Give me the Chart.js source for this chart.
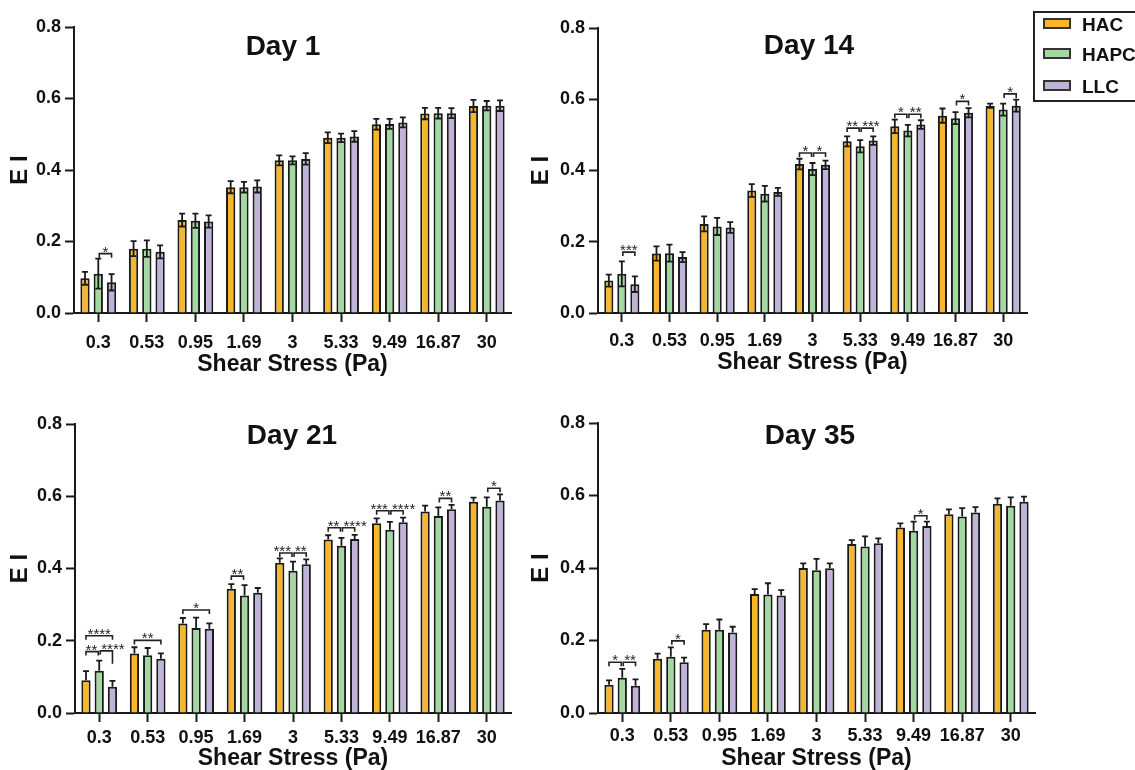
<!DOCTYPE html>
<html>
<head>
<meta charset="utf-8">
<script src="https://cdn.jsdelivr.net/npm/chart.js@4.4.1/dist/chart.umd.min.js"></script>
<style>
  html, body { margin: 0; padding: 0; background: #fff; }
  body { width: 1135px; height: 770px; position: relative; overflow: hidden; font-family: "Liberation Sans", Arial, sans-serif; }
  canvas { position: absolute; }
  #legend { position: absolute; left: 1033px; top: 11px; width: 130px; height: 91px; border: 2px solid #222; box-sizing: border-box; }
  .item { position: absolute; left: 8px; font-weight: bold; font-size: 19px; color: #111; line-height: 22px; }
  .item span { display: inline-block; width: 24px; height: 7px; border: 2px solid #333; vertical-align: middle; margin-right: 11px; position: relative; top: -2px; }
</style>
</head>
<body>
<canvas id="c1"></canvas>
<canvas id="c2"></canvas>
<canvas id="c3"></canvas>
<canvas id="c4"></canvas>
<div id="legend"></div>
<script>
// dữ liệu chung
const categories = ['0.3', '0.53', '0.95', '1.69', '3', '5.33', '9.49', '16.87', '30'];
const seriesNames = ['HAC', 'HAPC', 'LLC'];
const seriesColors = ['#F8B62D', '#A3D9A1', '#BFB3DA'];
const yTicks = [0, 0.2, 0.4, 0.6, 0.8];

// Day 1
const day1HAC = [0.097, 0.180, 0.260, 0.352, 0.427, 0.490, 0.528, 0.558, 0.579];
const day1HAPC = [0.110, 0.180, 0.258, 0.352, 0.427, 0.490, 0.529, 0.559, 0.580];
const day1LLC = [0.086, 0.171, 0.256, 0.354, 0.431, 0.494, 0.533, 0.559, 0.580];
const day1HACErr = [0.018, 0.021, 0.018, 0.017, 0.014, 0.015, 0.015, 0.016, 0.017];
const day1HAPCErr = [0.042, 0.023, 0.020, 0.015, 0.011, 0.012, 0.014, 0.015, 0.013];
const day1LLCErr = [0.023, 0.018, 0.017, 0.017, 0.016, 0.015, 0.014, 0.014, 0.015];
// [nhóm, cột A, cột B, độ cao, nhãn, chân B (tuỳ chọn)]
const day1Sig = [[0, 1, 2, 0.166, '*']];

// Day 14
const day14HAC = [0.091, 0.167, 0.250, 0.344, 0.418, 0.482, 0.524, 0.554, 0.582];
const day14HAPC = [0.110, 0.168, 0.243, 0.335, 0.404, 0.468, 0.512, 0.547, 0.571];
const day14LLC = [0.081, 0.157, 0.240, 0.340, 0.416, 0.484, 0.529, 0.562, 0.582];
const day14HACErr = [0.017, 0.020, 0.021, 0.018, 0.015, 0.014, 0.019, 0.020, 0.006];
const day14HAPCErr = [0.035, 0.024, 0.024, 0.022, 0.017, 0.017, 0.016, 0.017, 0.017];
const day14LLCErr = [0.022, 0.014, 0.015, 0.011, 0.012, 0.012, 0.012, 0.013, 0.017];
const day14Sig = [
    [0, 1, 2, 0.171, '***'],
    [4, 0, 1, 0.449, '*'], [4, 1, 2, 0.449, '*'],
    [5, 0, 1, 0.519, '**'], [5, 1, 2, 0.519, '***'],
    [6, 0, 1, 0.558, '*'], [6, 1, 2, 0.558, '**'],
    [7, 1, 2, 0.594, '*'],
    [8, 1, 2, 0.615, '*']
];

// Day 21
const day21HAC = [0.091, 0.165, 0.248, 0.344, 0.416, 0.480, 0.525, 0.558, 0.585];
const day21HAPC = [0.117, 0.160, 0.235, 0.325, 0.394, 0.463, 0.507, 0.545, 0.571];
const day21LLC = [0.073, 0.150, 0.233, 0.333, 0.412, 0.482, 0.528, 0.564, 0.588];
const day21HACErr = [0.025, 0.017, 0.015, 0.013, 0.012, 0.012, 0.014, 0.016, 0.011];
const day21HAPCErr = [0.028, 0.020, 0.029, 0.029, 0.025, 0.022, 0.022, 0.024, 0.026];
const day21LLCErr = [0.016, 0.015, 0.015, 0.013, 0.013, 0.011, 0.013, 0.012, 0.017];
const day21Sig = [
    [0, 0, 1, 0.170, '**'], [0, 1, 2, 0.172, '****', 0.136], [0, 0, 2, 0.214, '****'],
    [1, 0, 2, 0.201, '**'],
    [2, 0, 2, 0.285, '*'],
    [3, 0, 1, 0.379, '**'],
    [4, 0, 1, 0.443, '***'], [4, 1, 2, 0.443, '**'],
    [5, 0, 1, 0.513, '**'], [5, 1, 2, 0.513, '****'],
    [6, 0, 1, 0.560, '***'], [6, 1, 2, 0.560, '****'],
    [7, 1, 2, 0.594, '**'],
    [8, 1, 2, 0.622, '*']
];

// Day 35
const day35HAC = [0.078, 0.150, 0.230, 0.328, 0.400, 0.466, 0.512, 0.548, 0.577];
const day35HAPC = [0.097, 0.155, 0.230, 0.327, 0.394, 0.459, 0.503, 0.542, 0.572];
const day35LLC = [0.075, 0.140, 0.222, 0.324, 0.399, 0.468, 0.516, 0.553, 0.583];
const day35HACErr = [0.012, 0.014, 0.015, 0.014, 0.013, 0.011, 0.011, 0.014, 0.015];
const day35HAPCErr = [0.025, 0.026, 0.028, 0.031, 0.031, 0.028, 0.025, 0.023, 0.023];
const day35LLCErr = [0.018, 0.013, 0.016, 0.015, 0.014, 0.014, 0.012, 0.015, 0.014];
const day35Sig = [
    [0, 0, 1, 0.140, '*'], [0, 1, 2, 0.140, '**'],
    [1, 1, 2, 0.199, '*'],
    [6, 1, 2, 0.544, '*']
];

const FONT = "'Liberation Sans', Arial, sans-serif";
const INK = '#1a1a1a';

// vị trí từng ô biểu đồ
const panels = [
    { id: 'c1', title: 'Day 1', vals: [day1HAC, day1HAPC, day1LLC], errs: [day1HACErr, day1HAPCErr, day1LLCErr], sig: day1Sig, err: 'both',
      left: 0, top: 0, w: 530, h: 385, axisX: 74, plotTop: 27, plotBottom: 313, plotRight: 511, titleX: 283, titleY: 47, xLabelY: 342, xTitleY: 365, yTitleX: 20 },
    { id: 'c2', title: 'Day 14', vals: [day14HAC, day14HAPC, day14LLC], errs: [day14HACErr, day14HAPCErr, day14LLCErr], sig: day14Sig, err: 'both',
      left: 525, top: 0, w: 510, h: 385, axisX: 598, plotTop: 28, plotBottom: 313, plotRight: 1027, titleX: 809, titleY: 46, xLabelY: 340, xTitleY: 363, yTitleX: 541 },
    { id: 'c3', title: 'Day 21', vals: [day21HAC, day21HAPC, day21LLC], errs: [day21HACErr, day21HAPCErr, day21LLCErr], sig: day21Sig, err: 'up',
      left: 0, top: 395, w: 530, h: 375, axisX: 75, plotTop: 424, plotBottom: 713, plotRight: 511, titleX: 292, titleY: 436, xLabelY: 737, xTitleY: 759, yTitleX: 20 },
    { id: 'c4', title: 'Day 35', vals: [day35HAC, day35HAPC, day35LLC], errs: [day35HACErr, day35HAPCErr, day35LLCErr], sig: day35Sig, err: 'up',
      left: 525, top: 395, w: 520, h: 375, axisX: 598, plotTop: 423, plotBottom: 713, plotRight: 1035, titleX: 810, titleY: 436, xLabelY: 735, xTitleY: 759, yTitleX: 541 }
];

const TICK_LEN = 9;
const TICK_FONT = 18;
const AXIS_TITLE_FONT = 23;

function makeChart(p) {
    const canvas = document.getElementById(p.id);
    canvas.style.left = p.left + 'px';
    canvas.style.top = p.top + 'px';
    canvas.style.width = p.w + 'px';
    canvas.style.height = p.h + 'px';
    canvas.width = p.w;
    canvas.height = p.h;

    const lh = AXIS_TITLE_FONT * 1.2;

    // vẽ thanh sai số
    const errorBars = {
        id: 'errorBars',
        afterDatasetsDraw(chart) {
            const { ctx } = chart;
            const y = chart.scales.y;
            ctx.save();
            ctx.strokeStyle = INK;
            ctx.lineWidth = 1.8;
            chart.data.datasets.forEach((ds, di) => {
                chart.getDatasetMeta(di).data.forEach((bar, i) => {
                    const v = ds.data[i], e = p.errs[di][i];
                    const top = y.getPixelForValue(v + e);
                    const bot = p.err === 'both' ? y.getPixelForValue(v - e) : bar.y;
                    ctx.beginPath();
                    ctx.moveTo(bar.x, top);
                    ctx.lineTo(bar.x, bot);
                    ctx.moveTo(bar.x - 3, top);
                    ctx.lineTo(bar.x + 3, top);
                    if (p.err === 'both') {
                        ctx.moveTo(bar.x - 3, bot);
                        ctx.lineTo(bar.x + 3, bot);
                    }
                    ctx.stroke();
                });
            });
            ctx.restore();
        }
    };

    // dấu sao so sánh
    const sigMarks = {
        id: 'sigMarks',
        afterDatasetsDraw(chart) {
            const { ctx } = chart;
            const y = chart.scales.y;
            ctx.save();
            ctx.strokeStyle = '#222';
            ctx.fillStyle = '#222';
            ctx.lineWidth = 1.6;
            ctx.font = '15px ' + FONT;
            ctx.textAlign = 'center';
            ctx.textBaseline = 'alphabetic';
            p.sig.forEach(([cat, a, b, val, label, legB]) => {
                let xa = chart.getDatasetMeta(a).data[cat].x;
                let xb = chart.getDatasetMeta(b).data[cat].x;
                // cặp kề nhau dùng chung cột giữa
                const near = s => s[0] === cat && Math.abs(s[3] - val) < 0.01;
                const hasLeft = p.sig.some(s => near(s) && s[1] === 0 && s[2] === 1);
                const hasRight = p.sig.some(s => near(s) && s[1] === 1 && s[2] === 2);
                if (a === 1) xa += 1;
                if (b === 1) xb -= 1;
                const yy = y.getPixelForValue(val);
                const yb = legB !== undefined ? y.getPixelForValue(legB) : yy + 4;
                ctx.beginPath();
                ctx.moveTo(xa, yy + 4);
                ctx.lineTo(xa, yy);
                ctx.lineTo(xb, yy);
                ctx.lineTo(xb, yb);
                ctx.stroke();
                const w = ctx.measureText(label).width;
                let cx = (xa + xb) / 2;
                if (b === 1 && a === 0 && hasRight) cx = Math.min(cx, xb - 1 - w / 2);
                if (a === 1 && b === 2 && hasLeft) cx = Math.max(cx, xa + 1 + w / 2);
                ctx.fillText(label, cx, yy + 3);
            });
            ctx.restore();
        }
    };

    const panelTitle = {
        id: 'panelTitle',
        afterDraw(chart) {
            const { ctx } = chart;
            ctx.save();
            ctx.font = 'bold 28px ' + FONT;
            ctx.fillStyle = '#111';
            ctx.textAlign = 'center';
            ctx.textBaseline = 'middle';
            ctx.fillText(p.title, p.titleX - p.left, p.titleY - p.top);
            ctx.restore();
        }
    };

    return new Chart(canvas, {
        type: 'bar',
        data: {
            labels: categories,
            datasets: seriesNames.map((name, i) => ({
                label: name,
                data: p.vals[i],
                backgroundColor: seriesColors[i],
                borderColor: INK,
                borderWidth: 2,
                categoryPercentage: 0.82,
                barPercentage: 0.7
            }))
        },
        options: {
            responsive: false,
            animation: false,
            events: [],
            layout: {
                padding: { top: p.plotTop - p.top, right: p.left + p.w - p.plotRight, bottom: 0, left: 0 }
            },
            plugins: {
                legend: { display: false },
                tooltip: { enabled: false }
            },
            scales: {
                x: {
                    offset: true,
                    grid: { display: true, offset: false, drawOnChartArea: false, drawTicks: true, tickLength: TICK_LEN, tickWidth: 2, tickColor: INK },
                    border: { display: true, color: INK, width: 2 },
                    ticks: {
                        color: '#111',
                        font: { family: FONT, size: TICK_FONT, weight: 'bold' },
                        padding: p.xLabelY - p.plotBottom - TICK_LEN - 10,
                        maxRotation: 0,
                        autoSkip: false
                    },
                    title: {
                        display: true,
                        text: 'Shear Stress (Pa)',
                        color: '#111',
                        font: { family: FONT, size: AXIS_TITLE_FONT, weight: 'bold' },
                        padding: { top: 0, bottom: p.top + p.h - p.xTitleY - lh / 2 }
                    },
                    afterFit(scale) { scale.height = p.top + p.h - p.plotBottom; }
                },
                y: {
                    min: 0,
                    max: 0.8,
                    afterBuildTicks(scale) { scale.ticks = yTicks.map(v => ({ value: v })); },
                    grid: { display: true, drawOnChartArea: false, drawTicks: true, tickLength: TICK_LEN, tickWidth: 2, tickColor: INK },
                    border: { display: true, color: INK, width: 2 },
                    ticks: {
                        color: '#111',
                        font: { family: FONT, size: TICK_FONT, weight: 'bold' },
                        padding: 4,
                        callback: v => Number(v).toFixed(1)
                    },
                    title: {
                        display: true,
                        text: 'E I',
                        color: '#111',
                        font: { family: FONT, size: AXIS_TITLE_FONT + 1, weight: 'bold' },
                        padding: { top: p.yTitleX - p.left - lh / 2, bottom: 0 }
                    },
                    afterFit(scale) { scale.width = p.axisX - p.left; }
                }
            }
        },
        plugins: [errorBars, sigMarks, panelTitle]
    });
}

panels.forEach(makeChart);

// chú thích
const legendEl = document.getElementById('legend');
const legendY = [14, 44, 76];
seriesNames.forEach((name, i) => {
    const d = document.createElement('div');
    d.className = 'item';
    d.style.top = (legendY[i] - 13) + 'px';
    d.innerHTML = `<span style="background:${seriesColors[i]}"></span>${name}`;
    legendEl.appendChild(d);
});
</script>
</body>
</html>
